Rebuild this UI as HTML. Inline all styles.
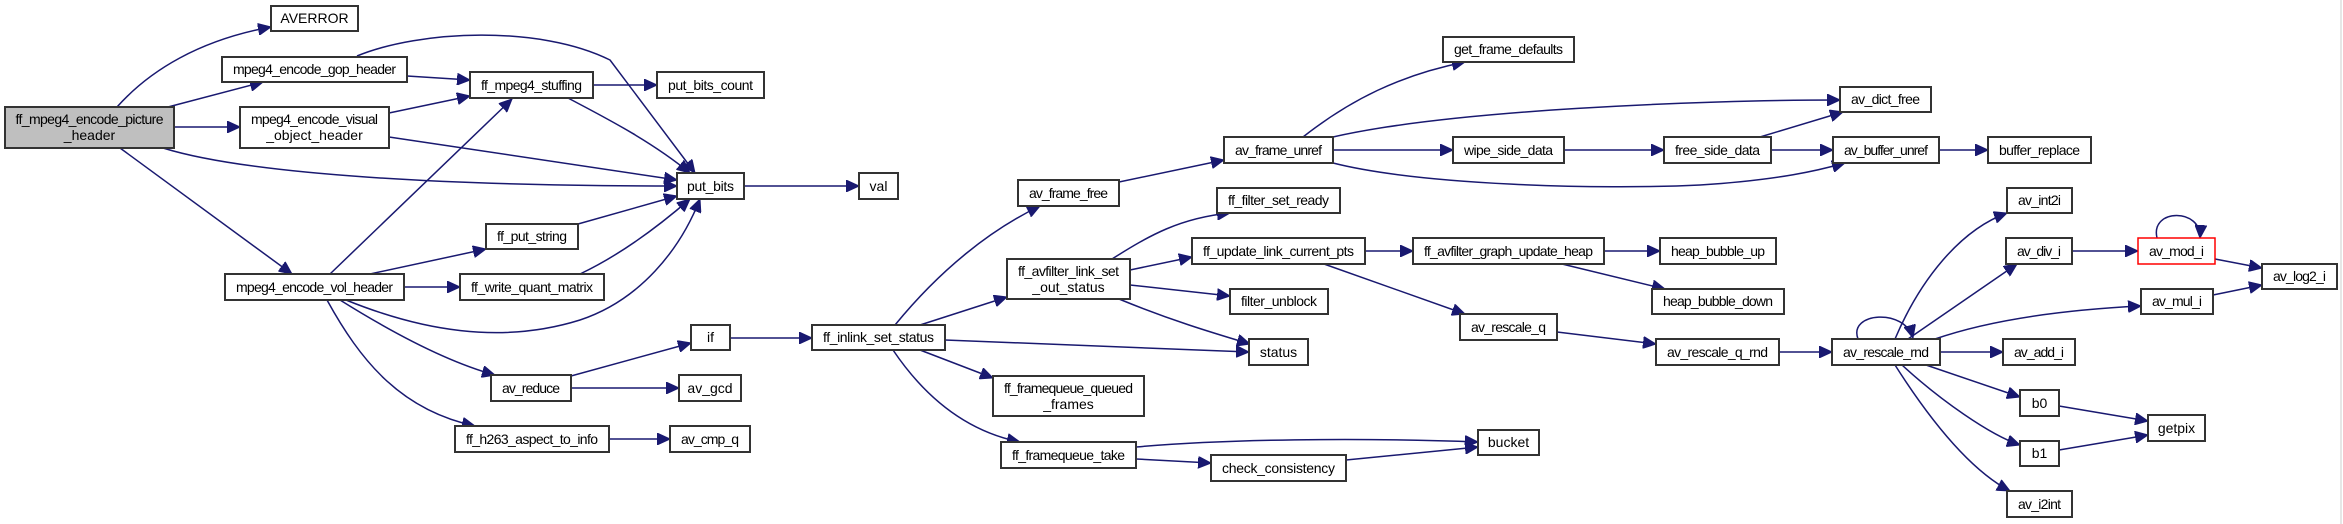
<!DOCTYPE html>
<html><head><meta charset="utf-8"><style>
html,body{margin:0;padding:0;background:#fff;}
svg{display:block;}
text{font-family:"Liberation Sans",sans-serif;font-size:14px;fill:#000;text-anchor:middle;}
.e{fill:none;stroke:#191970;stroke-width:1.5;marker-end:url(#a);}
.n{fill:#fff;stroke:#333;stroke-width:2;}
</style></head><body>
<svg width="2343" height="524" viewBox="0 0 2343 524" xmlns="http://www.w3.org/2000/svg">
<defs><marker id="a" markerUnits="userSpaceOnUse" markerWidth="14" markerHeight="12" refX="13" refY="6" orient="auto"><path d="M0,0 L13,6 L0,12 z" fill="#191970" stroke="#191970"/></marker></defs>
<rect width="2343" height="524" fill="#fff"/>
<line x1="2341" y1="0" x2="2341" y2="524" stroke="#ccc" stroke-width="1"/>
<g>
<path class="e" d="M117,107 C150,70 200,40 271,27"/>
<path class="e" d="M168,107 L263,82"/>
<path class="e" d="M174,127 L240,127"/>
<path class="e" d="M163,148 C250,175 450,186 677,186"/>
<path class="e" d="M120,148 L292,274"/>
<path class="e" d="M407,76 L470,80"/>
<path class="e" d="M357,56 C420,30 540,25 610,60 L695,173"/>
<path class="e" d="M389,113 L470,96"/>
<path class="e" d="M389,137 L677,180"/>
<path class="e" d="M593,85 L657,85"/>
<path class="e" d="M568,98 C600,115 650,140 690,173"/>
<path class="e" d="M744,186 L859,186"/>
<path class="e" d="M578,224 L677,196"/>
<path class="e" d="M580,274 C620,255 660,225 690,199"/>
<path class="e" d="M346,300 C420,330 500,345 580,320 C640,300 680,250 700,199"/>
<path class="e" d="M330,274 L512,99"/>
<path class="e" d="M370,274 L486,249"/>
<path class="e" d="M404,287 L460,287"/>
<path class="e" d="M340,300 C380,325 440,360 495,375"/>
<path class="e" d="M327,300 C360,360 400,410 475,426"/>
<path class="e" d="M571,376 L691,343"/>
<path class="e" d="M571,388 L679,388"/>
<path class="e" d="M609,439 L670,439"/>
<path class="e" d="M730,338 L812,338"/>
<path class="e" d="M895,325 C940,270 990,230 1040,206"/>
<path class="e" d="M920,325 L1007,297"/>
<path class="e" d="M945,340 L1249,352"/>
<path class="e" d="M920,350 L993,378"/>
<path class="e" d="M893,350 C920,390 960,430 1020,442"/>
<path class="e" d="M1136,447 C1250,437 1400,439 1478,442"/>
<path class="e" d="M1136,459 L1211,463"/>
<path class="e" d="M1346,460 L1478,447"/>
<path class="e" d="M1119,182 L1224,160"/>
<path class="e" d="M1303,137 C1350,100 1400,75 1465,62"/>
<path class="e" d="M1333,137 C1450,110 1700,100 1840,100"/>
<path class="e" d="M1333,150 L1453,150"/>
<path class="e" d="M1333,163 C1420,185 1600,190 1700,185 C1780,180 1820,170 1845,163"/>
<path class="e" d="M1564,150 L1664,150"/>
<path class="e" d="M1760,137 L1843,112"/>
<path class="e" d="M1771,150 L1833,150"/>
<path class="e" d="M1939,150 L1988,150"/>
<path class="e" d="M1112,259 C1150,235 1180,218 1230,213"/>
<path class="e" d="M1130,270 L1192,257"/>
<path class="e" d="M1130,285 L1230,296"/>
<path class="e" d="M1119,299 C1170,320 1210,332 1250,344"/>
<path class="e" d="M1365,251 L1413,251"/>
<path class="e" d="M1324,264 L1465,314"/>
<path class="e" d="M1604,251 L1660,251"/>
<path class="e" d="M1562,264 L1665,289"/>
<path class="e" d="M1557,332 L1656,344"/>
<path class="e" d="M1779,352 L1832,352"/>
<path class="e" d="M1858,339 C1848,312 1905,308 1913,338"/>
<path class="e" d="M1895,339 C1920,280 1960,230 2007,213"/>
<path class="e" d="M1908,339 L2017,264"/>
<path class="e" d="M1935,339 C1990,320 2060,310 2141,306"/>
<path class="e" d="M1940,352 L2003,352"/>
<path class="e" d="M1926,365 L2020,397"/>
<path class="e" d="M1902,365 C1940,400 1990,435 2020,445"/>
<path class="e" d="M1895,365 C1930,420 1970,470 2010,491"/>
<path class="e" d="M2059,406 L2148,421"/>
<path class="e" d="M2059,450 L2148,435"/>
<path class="e" d="M2072,251 L2138,251"/>
<path class="e" d="M2157,238 C2150,208 2202,208 2200,238"/>
<path class="e" d="M2215,259 L2262,268"/>
<path class="e" d="M2213,295 L2262,285"/>
</g>
<g>
<rect x="5" y="107" width="169" height="41" fill="#bfbfbf" stroke="#333" stroke-width="2"/>
<text x="89.5" y="124" textLength="148">ff_mpeg4_encode_picture</text><text x="89.5" y="140">_header</text>
<rect class="n" x="271" y="6" width="87" height="25"/><text x="314.5" y="23">AVERROR</text>
<rect class="n" x="222" y="57" width="185" height="25"/><text x="314.5" y="74" textLength="163">mpeg4_encode_gop_header</text>
<rect class="n" x="470" y="72" width="123" height="26"/><text x="531.5" y="90" textLength="101">ff_mpeg4_stuffing</text>
<rect class="n" x="657" y="72" width="107" height="26"/><text x="710.5" y="90" textLength="85">put_bits_count</text>
<rect class="n" x="240" y="107" width="149" height="41"/><text x="314.5" y="124" textLength="127">mpeg4_encode_visual</text><text x="314.5" y="140">_object_header</text>
<rect class="n" x="677" y="173" width="67" height="26"/><text x="710.5" y="191" textLength="47">put_bits</text>
<rect class="n" x="486" y="224" width="92" height="25"/><text x="532" y="241" textLength="70">ff_put_string</text>
<rect class="n" x="225" y="274" width="179" height="26"/><text x="314.5" y="292" textLength="157">mpeg4_encode_vol_header</text>
<rect class="n" x="460" y="274" width="144" height="26"/><text x="532" y="292" textLength="122">ff_write_quant_matrix</text>
<rect class="n" x="691" y="325" width="39" height="25"/><text x="710.5" y="342">if</text>
<rect class="n" x="491" y="375" width="80" height="26"/><text x="531" y="393" textLength="58">av_reduce</text>
<rect class="n" x="679" y="375" width="62" height="26"/><text x="710" y="393">av_gcd</text>
<rect class="n" x="455" y="426" width="154" height="26"/><text x="532" y="444" textLength="132">ff_h263_aspect_to_info</text>
<rect class="n" x="670" y="426" width="80" height="26"/><text x="710" y="444" textLength="58">av_cmp_q</text>
<rect class="n" x="859" y="173" width="39" height="26"/><text x="878.5" y="191">val</text>
<rect class="n" x="1443" y="37" width="131" height="25"/><text x="1508.5" y="54" textLength="109">get_frame_defaults</text>
<rect class="n" x="1224" y="137" width="109" height="26"/><text x="1278.5" y="155" textLength="87">av_frame_unref</text>
<rect class="n" x="1453" y="137" width="111" height="26"/><text x="1508.5" y="155" textLength="89">wipe_side_data</text>
<rect class="n" x="1018" y="180" width="101" height="26"/><text x="1068.5" y="198" textLength="79">av_frame_free</text>
<rect class="n" x="1217" y="188" width="123" height="25"/><text x="1278.5" y="205" textLength="101">ff_filter_set_ready</text>
<rect class="n" x="1192" y="238" width="173" height="26"/><text x="1278.5" y="256" textLength="151">ff_update_link_current_pts</text>
<rect class="n" x="1413" y="238" width="191" height="26"/><text x="1508.5" y="256" textLength="169">ff_avfilter_graph_update_heap</text>
<rect class="n" x="1007" y="259" width="123" height="40"/><text x="1068.5" y="276" textLength="101">ff_avfilter_link_set</text><text x="1068.5" y="292">_out_status</text>
<rect class="n" x="1230" y="289" width="98" height="25"/><text x="1279" y="306" textLength="76">filter_unblock</text>
<rect class="n" x="1460" y="314" width="97" height="26"/><text x="1508.5" y="332" textLength="75">av_rescale_q</text>
<rect class="n" x="812" y="325" width="133" height="25"/><text x="878.5" y="342" textLength="111">ff_inlink_set_status</text>
<rect class="n" x="1249" y="339" width="59" height="26"/><text x="1278.5" y="357">status</text>
<rect class="n" x="993" y="376" width="151" height="40"/><text x="1068.5" y="393" textLength="129">ff_framequeue_queued</text><text x="1068.5" y="409">_frames</text>
<rect class="n" x="1001" y="442" width="135" height="26"/><text x="1068.5" y="460" textLength="113">ff_framequeue_take</text>
<rect class="n" x="1478" y="430" width="61" height="25"/><text x="1508.5" y="447">bucket</text>
<rect class="n" x="1211" y="455" width="135" height="26"/><text x="1278.5" y="473" textLength="113">check_consistency</text>
<rect class="n" x="1840" y="87" width="91" height="25"/><text x="1885.5" y="104" textLength="69">av_dict_free</text>
<rect class="n" x="1664" y="137" width="107" height="26"/><text x="1717.5" y="155" textLength="85">free_side_data</text>
<rect class="n" x="1833" y="137" width="106" height="26"/><text x="1886" y="155" textLength="84">av_buffer_unref</text>
<rect class="n" x="1988" y="137" width="103" height="26"/><text x="2039.5" y="155" textLength="81">buffer_replace</text>
<rect class="n" x="2007" y="188" width="65" height="25"/><text x="2039.5" y="205" textLength="43">av_int2i</text>
<rect class="n" x="1660" y="238" width="116" height="26"/><text x="1718" y="256" textLength="94">heap_bubble_up</text>
<rect class="n" x="2006" y="238" width="66" height="26"/><text x="2039" y="256" textLength="44">av_div_i</text>
<rect x="2138" y="238" width="77" height="26" fill="#fff" stroke="#ff0000" stroke-width="1.5"/><text x="2176.5" y="256" textLength="55">av_mod_i</text>
<rect class="n" x="2262" y="264" width="75" height="25"/><text x="2299.5" y="281" textLength="53">av_log2_i</text>
<rect class="n" x="1652" y="289" width="132" height="25"/><text x="1718" y="306" textLength="110">heap_bubble_down</text>
<rect class="n" x="2141" y="289" width="72" height="25"/><text x="2177" y="306" textLength="50">av_mul_i</text>
<rect class="n" x="1656" y="339" width="123" height="26"/><text x="1717.5" y="357" textLength="101">av_rescale_q_rnd</text>
<rect class="n" x="1832" y="339" width="108" height="26"/><text x="1886" y="357" textLength="86">av_rescale_rnd</text>
<rect class="n" x="2003" y="339" width="72" height="26"/><text x="2039" y="357" textLength="50">av_add_i</text>
<rect class="n" x="2020" y="390" width="39" height="26"/><text x="2039.5" y="408">b0</text>
<rect class="n" x="2148" y="415" width="57" height="26"/><text x="2176.5" y="433">getpix</text>
<rect class="n" x="2020" y="441" width="39" height="25"/><text x="2039.5" y="458">b1</text>
<rect class="n" x="2007" y="491" width="65" height="26"/><text x="2039.5" y="509" textLength="43">av_i2int</text>
</g>
</svg>
</body></html>
